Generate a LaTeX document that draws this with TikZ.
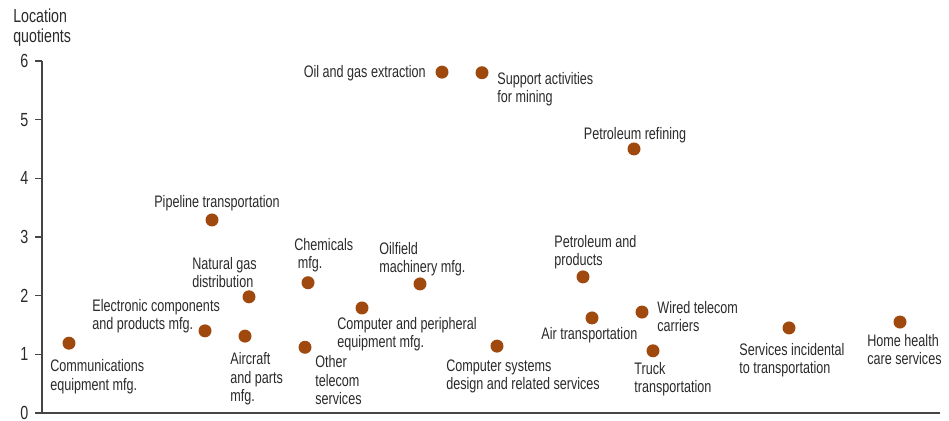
\documentclass[tikz,border=0pt]{standalone}
\usepackage{fontspec}
\setmainfont{Liberation Sans}[FakeStretch=0.755]
\usepackage{xcolor}
\usepackage{tikz}
\usetikzlibrary{calc}

\definecolor{dotbrown}{HTML}{A0490F}
\definecolor{inkgray}{HTML}{2A2A2A}
\definecolor{axisgray}{HTML}{454545}

\tikzset{
	dot/.style = {circle, fill=dotbrown, inner sep=0pt, minimum size=0.26cm},
	lbl/.style = {inner sep=0pt, align=left, text=inkgray,
		font=\fontsize{9.5}{10.5}\selectfont},
	axis/.style = {draw=axisgray, line width=0.85pt},
}

\begin{document}
\begin{tikzpicture}[x=0.02cm, y=0.02cm]
			\def\yu{58.67};

			\useasboundingbox (0,-8) rectangle (949,413);

			% axes
			\draw[axis] (42,352) -- (42,0) -- (940,0);
			\foreach \v in {0,...,6}
				\draw[axis] (35,\v*\yu) -- (42,\v*\yu)
					node [lbl, anchor=east, font=\fontsize{10.8}{12}\selectfont] (tick\v) at (29,\v*\yu) {\v};
			\node [lbl, anchor=north west, font=\fontsize{10.7}{11.3}\selectfont] (ytitle) at (13,404) {Location\\quotients};

			% industries
			\node[dot] (comm) at (69,1.19*\yu) {};
			\node[dot] (elec) at (205,1.40*\yu) {};
			\node[dot] (pipe) at (212,3.29*\yu) {};
			\node[dot] (natgas) at (249,1.98*\yu) {};
			\node[dot] (aircr) at (245,1.31*\yu) {};
			\node[dot] (chem) at (308,2.22*\yu) {};
			\node[dot] (othtel) at (305,1.12*\yu) {};
			\node[dot] (comp) at (362,1.79*\yu) {};
			\node[dot] (oilf) at (420,2.20*\yu) {};
			\node[dot] (oilgas) at (442,5.81*\yu) {};
			\node[dot] (supp) at (482,5.80*\yu) {};
			\node[dot] (petref) at (634,4.50*\yu) {};
			\node[dot] (compsys) at (497,1.14*\yu) {};
			\node[dot] (petprod) at (583,2.32*\yu) {};
			\node[dot] (airtr) at (592,1.62*\yu) {};
			\node[dot] (wired) at (642,1.72*\yu) {};
			\node[dot] (truck) at (653,1.06*\yu) {};
			\node[dot] (servinc) at (789,1.45*\yu) {};
			\node[dot] (home) at (900,1.55*\yu) {};

			% labels
			\begin{scope}[every node/.style={lbl}]
				\node[anchor=north west] (commL) at ([shift={(-19,-16)}]comm.center) {Communications\\equipment mfg.};
				\node[anchor=north west] (elecL) at ([shift={(-113,32)}]elec.center) {Electronic components\\and products mfg.};
				\node[anchor=north] (pipeL) at ([shift={(5,25)}]pipe.center) {Pipeline transportation};
				\node[anchor=north west] (natgasL) at ([shift={(-57,40)}]natgas.center) {Natural gas\\distribution};
				\node[anchor=north west] (aircrL) at ([shift={(-15,-16)}]aircr.center) {Aircraft\\and parts\\mfg.};
				\node[anchor=north west] (chemL) at ([shift={(-14,45)}]chem.center) {Chemicals\\\ mfg.};
				\node[anchor=north west] (othtelL) at ([shift={(10,-8)}]othtel.center) {Other\\telecom\\services};
				\node[anchor=north west] (compL) at ([shift={(-25,-9)}]comp.center) {Computer and peripheral\\equipment mfg.};
				\node[anchor=north west] (oilfL) at ([shift={(-41,42)}]oilf.center) {Oilfield\\machinery mfg.};
				\node[anchor=north east] (oilgasL) at ([shift={(-16,7)}]oilgas.center) {Oil and gas extraction};
				\node[anchor=north west] (suppL) at ([shift={(15,1)}]supp.center) {Support activities\\for mining};
				\node[anchor=north] (petrefL) at ([shift={(1,22)}]petref.center) {Petroleum refining};
				\node[anchor=north west] (compsysL) at ([shift={(-51,-13)}]compsys.center) {Computer systems\\design and related services};
				\node[anchor=north west] (petprodL) at ([shift={(-29,42)}]petprod.center) {Petroleum and\\products};
				\node[anchor=north west] (airtrL) at ([shift={(-51,-9)}]airtr.center) {Air transportation};
				\node[anchor=north west] (wiredL) at ([shift={(15,11)}]wired.center) {Wired telecom\\carriers};
				\node[anchor=north west] (truckL) at ([shift={(-19,-11)}]truck.center) {Truck\\transportation};
				\node[anchor=north west] (servincL) at ([shift={(-50,-15)}]servinc.center) {Services incidental\\to transportation};
				\node[anchor=north west] (homeL) at ([shift={(-33,-12)}]home.center) {Home health\\care services};
			\end{scope}
		\end{tikzpicture}
\end{document}
